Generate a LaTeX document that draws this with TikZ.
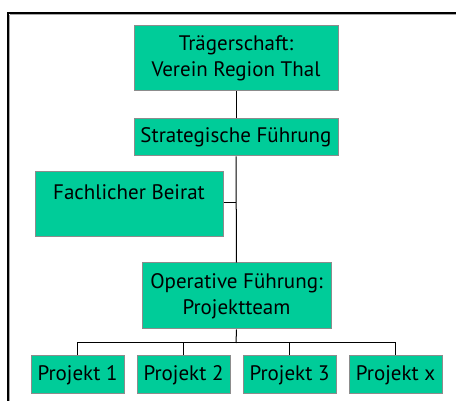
\documentclass[tikz,border=0pt]{standalone}
\usepackage{fontspec}
\setmainfont{PT Sans}
\definecolor{boxgreen}{HTML}{00CC99}
\definecolor{boxedge}{HTML}{8C8C8C}
\begin{document}
\begin{tikzpicture}[x=1pt,y=-1pt,
  box/.style={draw=boxedge, line width=1pt, fill=boxgreen, inner sep=0pt, align=center,
    font=\fontsize{21}{26}\selectfont},
  conn/.style={draw=black, line width=1pt}]
\useasboundingbox (0,0) rectangle (456,401);
\clip (0,0) rectangle (456,401);
% frame
\draw[line width=1.8pt, black] (8.2,13.2) rectangle (480,430);
\draw[line width=1pt, black!35] (9.9,14.9) -- (480,14.9);
\draw[line width=1pt, black!35] (9.9,14.9) -- (9.9,430);
% nodes
\node[box, minimum width=204pt, minimum height=65pt] (trag) at (236,58.5) {Trägerschaft:\\Verein Region Thal};
\node[box, minimum width=204pt, minimum height=37pt] (strat) at (236,137.5) {Strategische Führung};
\node[box, anchor=north, minimum width=188pt, text height=28pt, text depth=37pt, inner ysep=0pt] (beirat) at (129,171) {Fachlicher Beirat};
\node[box, minimum width=189pt, minimum height=66pt] (oper) at (236.5,296) {Operative Führung:\\Projektteam};
\node[box, minimum width=93pt, minimum height=38pt] (p1) at (77.5,375) {Projekt 1};
\node[box, minimum width=93pt, minimum height=38pt] (p2) at (183.5,375) {Projekt 2};
\node[box, minimum width=93pt, minimum height=38pt] (p3) at (289.5,375) {Projekt 3};
\node[box, minimum width=93pt, minimum height=38pt] (px) at (395.5,375) {Projekt x};
% connectors
\coordinate (j) at (236,203);
\coordinate (bus) at (236,343);
\draw[conn] (trag.south) -- (strat.north);
\draw[conn] (strat.south) -- (oper.north);
\draw[conn] (beirat.east |- j) -- (j);
\draw[conn] (oper.south) -- (bus);
\draw[conn] (p1.north) -- (p1.north |- bus) -- (px.north |- bus) -- (px.north);
\draw[conn] (p2.north) -- (p2.north |- bus);
\draw[conn] (p3.north) -- (p3.north |- bus);
\end{tikzpicture}
\end{document}
